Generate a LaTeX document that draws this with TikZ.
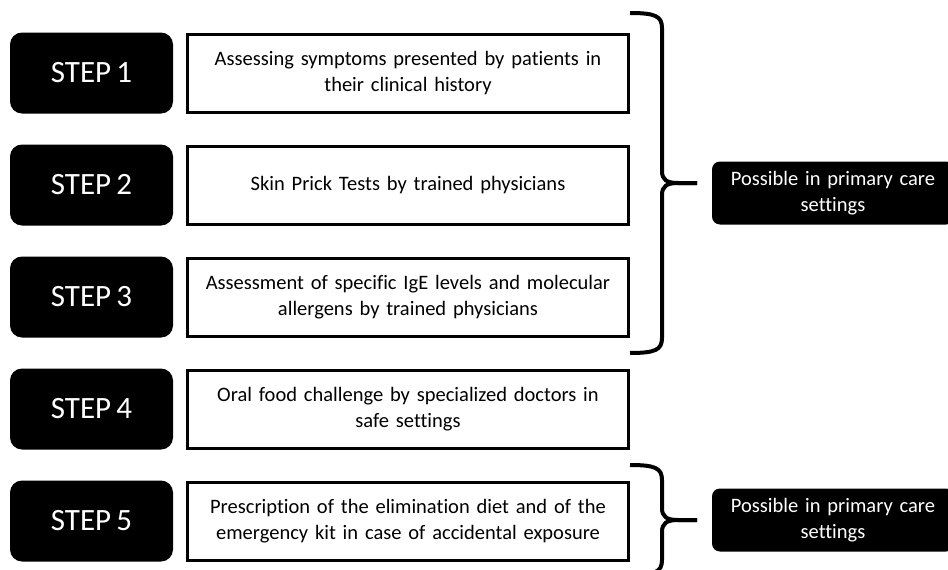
\documentclass[tikz,border=0pt]{standalone}
\usepackage{fontspec}
\setmainfont[WordSpace=0.75,Ligatures={NoCommon}]{Carlito}
\begin{document}
\begin{tikzpicture}[x=1pt,y=-1pt,
  stepbox/.style={fill=black, rounded corners=12pt, minimum width=163pt, minimum height=81pt, inner sep=0pt, text=white, font=\fontsize{31}{36}\selectfont},
  descbox/.style={draw=black, line width=3pt, fill=white, minimum width=441pt, minimum height=78pt, inner sep=0pt, text width=430pt, align=center, font=\fontsize{20.5}{26}\selectfont},
  labelbox/.style={fill=black, rounded corners=8pt, minimum width=242pt, minimum height=63pt, inner sep=0pt, text=white, text width=236pt, align=center, font=\fontsize{20.5}{26}\selectfont},
  bracestyle/.style={draw=black, line width=4pt}
]
\useasboundingbox (0,0) rectangle (948,570);
\clip (0,0) rectangle (948,570);

\node[stepbox] (s1) at (91.5,73) {STEP 1};
\node[stepbox] (s2) at (91.5,185) {STEP 2};
\node[stepbox] (s3) at (91.5,297) {STEP 3};
\node[stepbox] (s4) at (91.5,409) {STEP 4};
\node[stepbox] (s5) at (91.5,521) {STEP 5};

\node[descbox] (d1) at (408,73) {Assessing symptoms presented by patients in\\their clinical history};
\node[descbox] (d2) at (408,185) {Skin Prick Tests by trained physicians};
\node[descbox] (d3) at (408,297) {Assessment of specific IgE levels and molecular\\allergens by trained physicians};
\node[descbox] (d4) at (408,409) {Oral food challenge by specialized doctors in\\safe settings};
\node[descbox] (d5) at (408,521) {Prescription of the elimination diet and of the\\emergency kit in case of accidental exposure};

\node[labelbox] (l1) at (833,193) {Possible in primary care\\settings};
\node[labelbox] (l2) at (833,520) {Possible in primary care\\settings};

% brace 1
\coordinate (b1t) at (630,13);
\coordinate (b1m) at (697,183);
\coordinate (b1b) at (630,353);
\draw[bracestyle] (b1t) .. controls (655,13) and (662,16) .. (662,28) -- (662,171)
  .. controls (662,180) and (667,183) .. (678,183) -- (b1m);
\draw[bracestyle] (b1m) -- (678,183) .. controls (667,183) and (662,186) .. (662,195)
  -- (662,338) .. controls (662,350) and (655,353) .. (b1b);

% brace 2
\coordinate (b2t) at (630,465);
\coordinate (b2m) at (697,520);
\coordinate (b2b) at (630,575);
\draw[bracestyle] (b2t) .. controls (655,465) and (662,468) .. (662,480) -- (662,508)
  .. controls (662,517) and (667,520) .. (678,520) -- (b2m);
\draw[bracestyle] (b2m) -- (678,520) .. controls (667,520) and (662,523) .. (662,532)
  -- (662,560) .. controls (662,572) and (655,575) .. (b2b);
\end{tikzpicture}
\end{document}
